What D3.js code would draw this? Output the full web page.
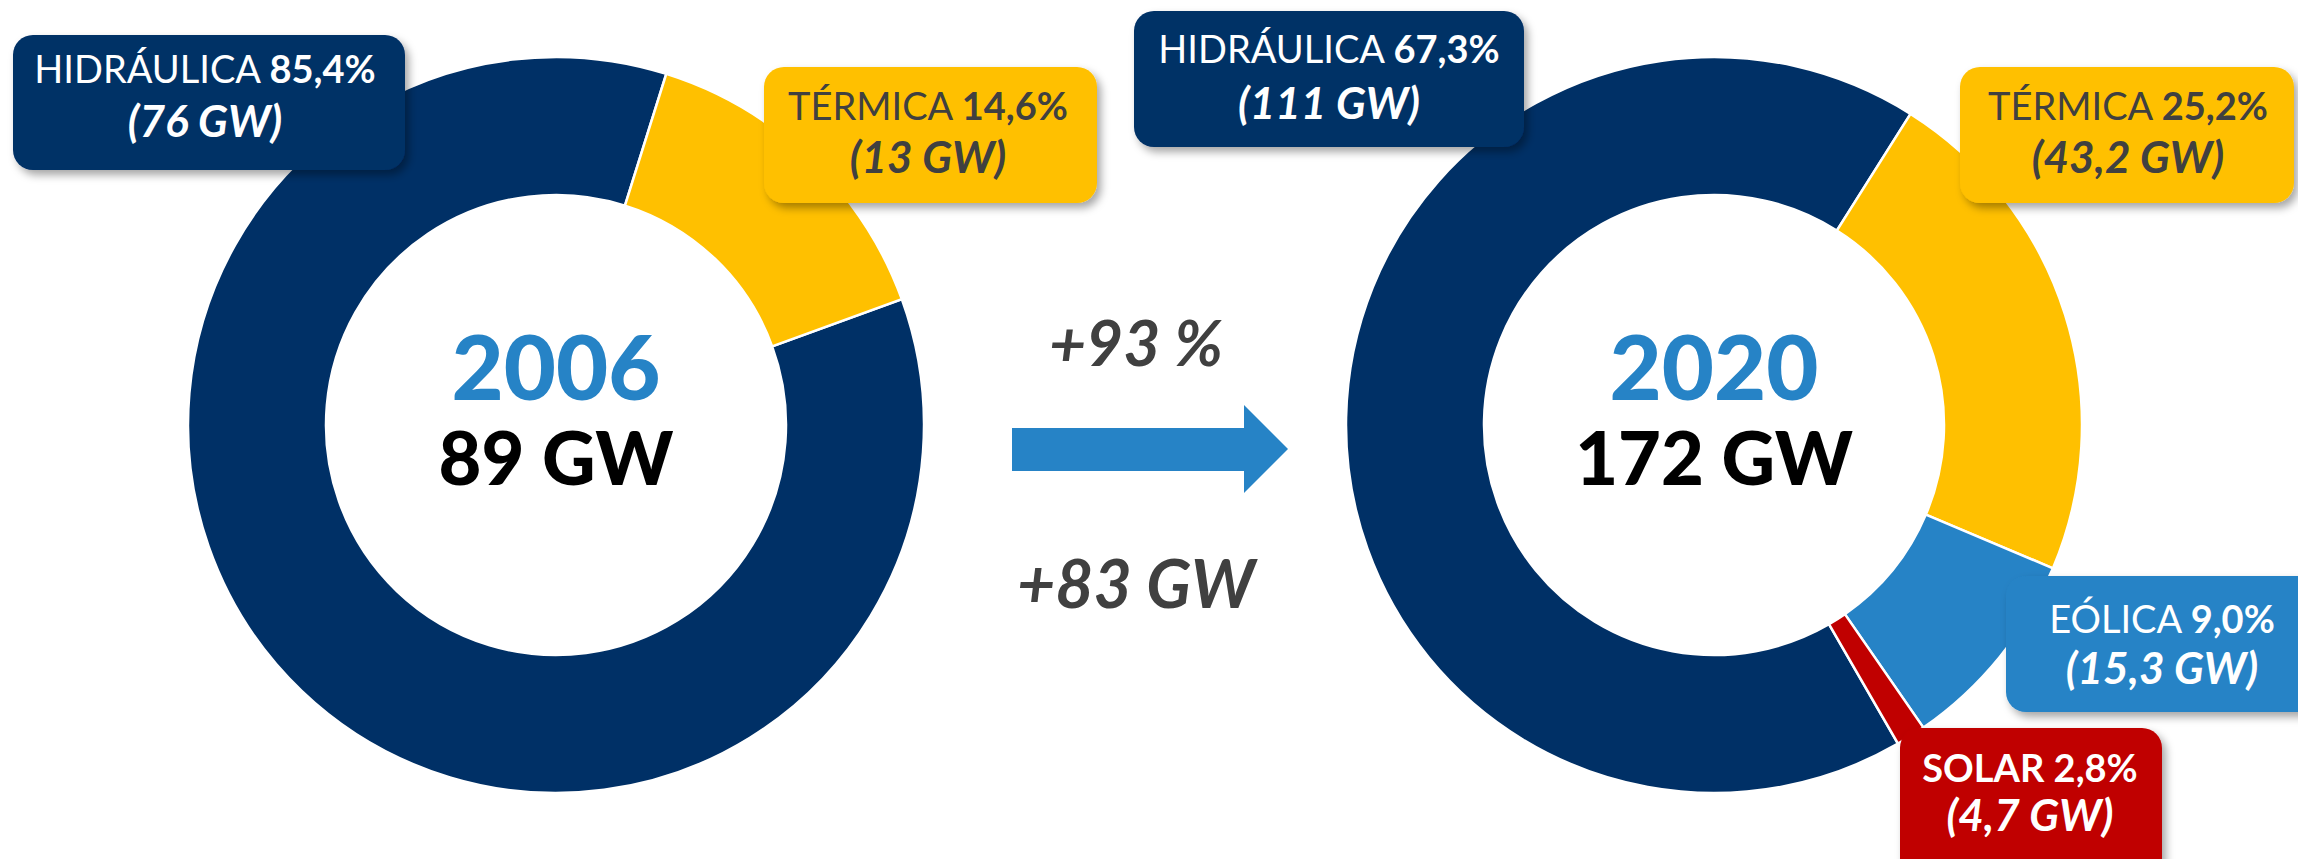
<!DOCTYPE html>
<html>
<head>
<meta charset="utf-8">
<script src="https://cdn.jsdelivr.net/npm/d3@7"></script>
<style>
  html, body { margin: 0; padding: 0; background: #fff; }
  svg { display: block; font-family: Lato, "Open Sans", sans-serif; }
</style>
</head>
<body>
<div id="chart"></div>
<script>
// ---- data ----
var years = ["2006", "2020"];
var totals = ["89 GW", "172 GW"];

var categories2006 = ["HIDRÁULICA", "TÉRMICA"];
var shares2006 = [85.4, 14.6];
var pctLabels2006 = ["85,4%", "14,6%"];
var gwLabels2006 = ["(76 GW)", "(13 GW)"];

var categories2020 = ["HIDRÁULICA", "TÉRMICA", "EÓLICA", "SOLAR"];
var shares2020 = [67.3, 22.4, 9.0, 1.3];   // slice sizes as drawn
var pctLabels2020 = ["67,3%", "25,2%", "9,0%", "2,8%"];
var gwLabels2020 = ["(111 GW)", "(43,2 GW)", "(15,3 GW)", "(4,7 GW)"];

var growthLabels = ["+93 %", "+83 GW"];

// ---- styles ----
var colors = {
  "HIDRÁULICA": "#003066",
  "TÉRMICA": "#FFC000",
  "EÓLICA": "#2683C6",
  "SOLAR": "#C00000"
};
var textColors = {
  "HIDRÁULICA": "#ffffff",
  "TÉRMICA": "#404040",
  "EÓLICA": "#ffffff",
  "SOLAR": "#ffffff"
};

var width = 2298, height = 859;
var outerR = 368, innerR = 230;
var deg = Math.PI / 180;

var svg = d3.select("#chart").append("svg")
    .attr("width", width)
    .attr("height", height);

// drop shadow for the label boxes
var defs = svg.append("defs");
var f = defs.append("filter").attr("id", "shadow")
    .attr("x", "-10%").attr("y", "-10%").attr("width", "130%").attr("height", "140%");
f.append("feDropShadow")
    .attr("dx", 4).attr("dy", 5).attr("stdDeviation", 4)
    .attr("flood-color", "#000").attr("flood-opacity", 0.35);

var arc = d3.arc().innerRadius(innerR).outerRadius(outerR);

function donut(cx, cy, cats, shares, start) {
  var pie = d3.pie().sort(null)
      .startAngle(start).endAngle(start + 2 * Math.PI)
      .value(function(d) { return d.v; });
  var data = cats.map(function(c, i) { return {c: c, v: shares[i]}; });
  var g = svg.append("g").attr("transform", "translate(" + cx + "," + cy + ")");
  g.selectAll("path")
    .data(pie(data))
    .enter().append("path")
      .attr("d", arc)
      .attr("fill", function(d) { return colors[d.data.c]; })
      .attr("stroke", "#fff")
      .attr("stroke-width", 2.5);
  return g;
}

function centerText(g, year, total) {
  g.append("text")
    .attr("text-anchor", "middle")
    .attr("y", -25)
    .attr("fill", "#2683C6")
    .attr("font-weight", 900)
    .attr("font-size", 90)
    .text(year);
  g.append("text")
    .attr("text-anchor", "middle")
    .attr("y", 60)
    .attr("fill", "#000")
    .attr("font-weight", 900)
    .attr("font-size", 74)
    .text(total);
}

var g1 = donut(556, 425, categories2006, shares2006, 70 * deg);
centerText(g1, years[0], totals[0]);
var g2 = donut(1714, 425, categories2020, shares2020, 150 * deg);
centerText(g2, years[1], totals[1]);

// label boxes: x, y, w, h, text centre x, baseline 1, baseline 2
var boxes2006 = [
  {x: 13,   y: 35,  w: 392, h: 135, cx: 205,  b1: 83,  b2: 137},
  {x: 764,  y: 67,  w: 333, h: 136, cx: 928,  b1: 120, b2: 173}
];
var boxes2020 = [
  {x: 1134, y: 11,  w: 390, h: 136, cx: 1329, b1: 63,  b2: 119},
  {x: 1960, y: 67,  w: 334, h: 136, cx: 2128, b1: 120, b2: 173},
  {x: 2006, y: 576, w: 330, h: 136, cx: 2162, b1: 633, b2: 684},
  {x: 1900, y: 728, w: 262, h: 160, cx: 2030, b1: 782, b2: 831}
];

function labels(cats, pcts, gws, boxes) {
  cats.forEach(function(c, i) {
    var b = boxes[i];
    var lg = svg.append("g");
    lg.append("rect")
      .attr("x", b.x).attr("y", b.y)
      .attr("width", b.w).attr("height", b.h)
      .attr("rx", 20).attr("ry", 20)
      .attr("fill", colors[c])
      .attr("filter", "url(#shadow)");
    var t1 = lg.append("text")
      .attr("x", b.cx).attr("y", b.b1)
      .attr("text-anchor", "middle")
      .attr("font-size", 38)
      .attr("fill", textColors[c]);
    t1.append("tspan")
      .attr("font-weight", c === "SOLAR" ? 700 : 400)
      .text(c + " ");
    t1.append("tspan")
      .attr("font-weight", 700)
      .text(pcts[i]);
    lg.append("text")
      .attr("x", b.cx).attr("y", b.b2)
      .attr("text-anchor", "middle")
      .attr("font-size", 44)
      .attr("font-weight", 700)
      .attr("font-style", "italic")
      .attr("fill", textColors[c])
      .text(gws[i]);
  });
}

labels(categories2006, pctLabels2006, gwLabels2006, boxes2006);
labels(categories2020, pctLabels2020, gwLabels2020, boxes2020);

// growth arrow in the middle
var arrow = d3.path();
arrow.moveTo(1012, 428);
arrow.lineTo(1244, 428);
arrow.lineTo(1244, 405);
arrow.lineTo(1288, 449);
arrow.lineTo(1244, 493);
arrow.lineTo(1244, 471);
arrow.lineTo(1012, 471);
arrow.closePath();
svg.append("path").attr("d", arrow.toString()).attr("fill", "#2683C6");

svg.append("text")
  .attr("x", 1136).attr("y", 366)
  .attr("text-anchor", "middle")
  .attr("font-size", 64).attr("font-weight", 700).attr("font-style", "italic")
  .attr("fill", "#404040")
  .text(growthLabels[0]);
svg.append("text")
  .attr("x", 1136).attr("y", 608)
  .attr("text-anchor", "middle")
  .attr("font-size", 66).attr("font-weight", 700).attr("font-style", "italic")
  .attr("fill", "#404040")
  .text(growthLabels[1]);
</script>
</body>
</html>
